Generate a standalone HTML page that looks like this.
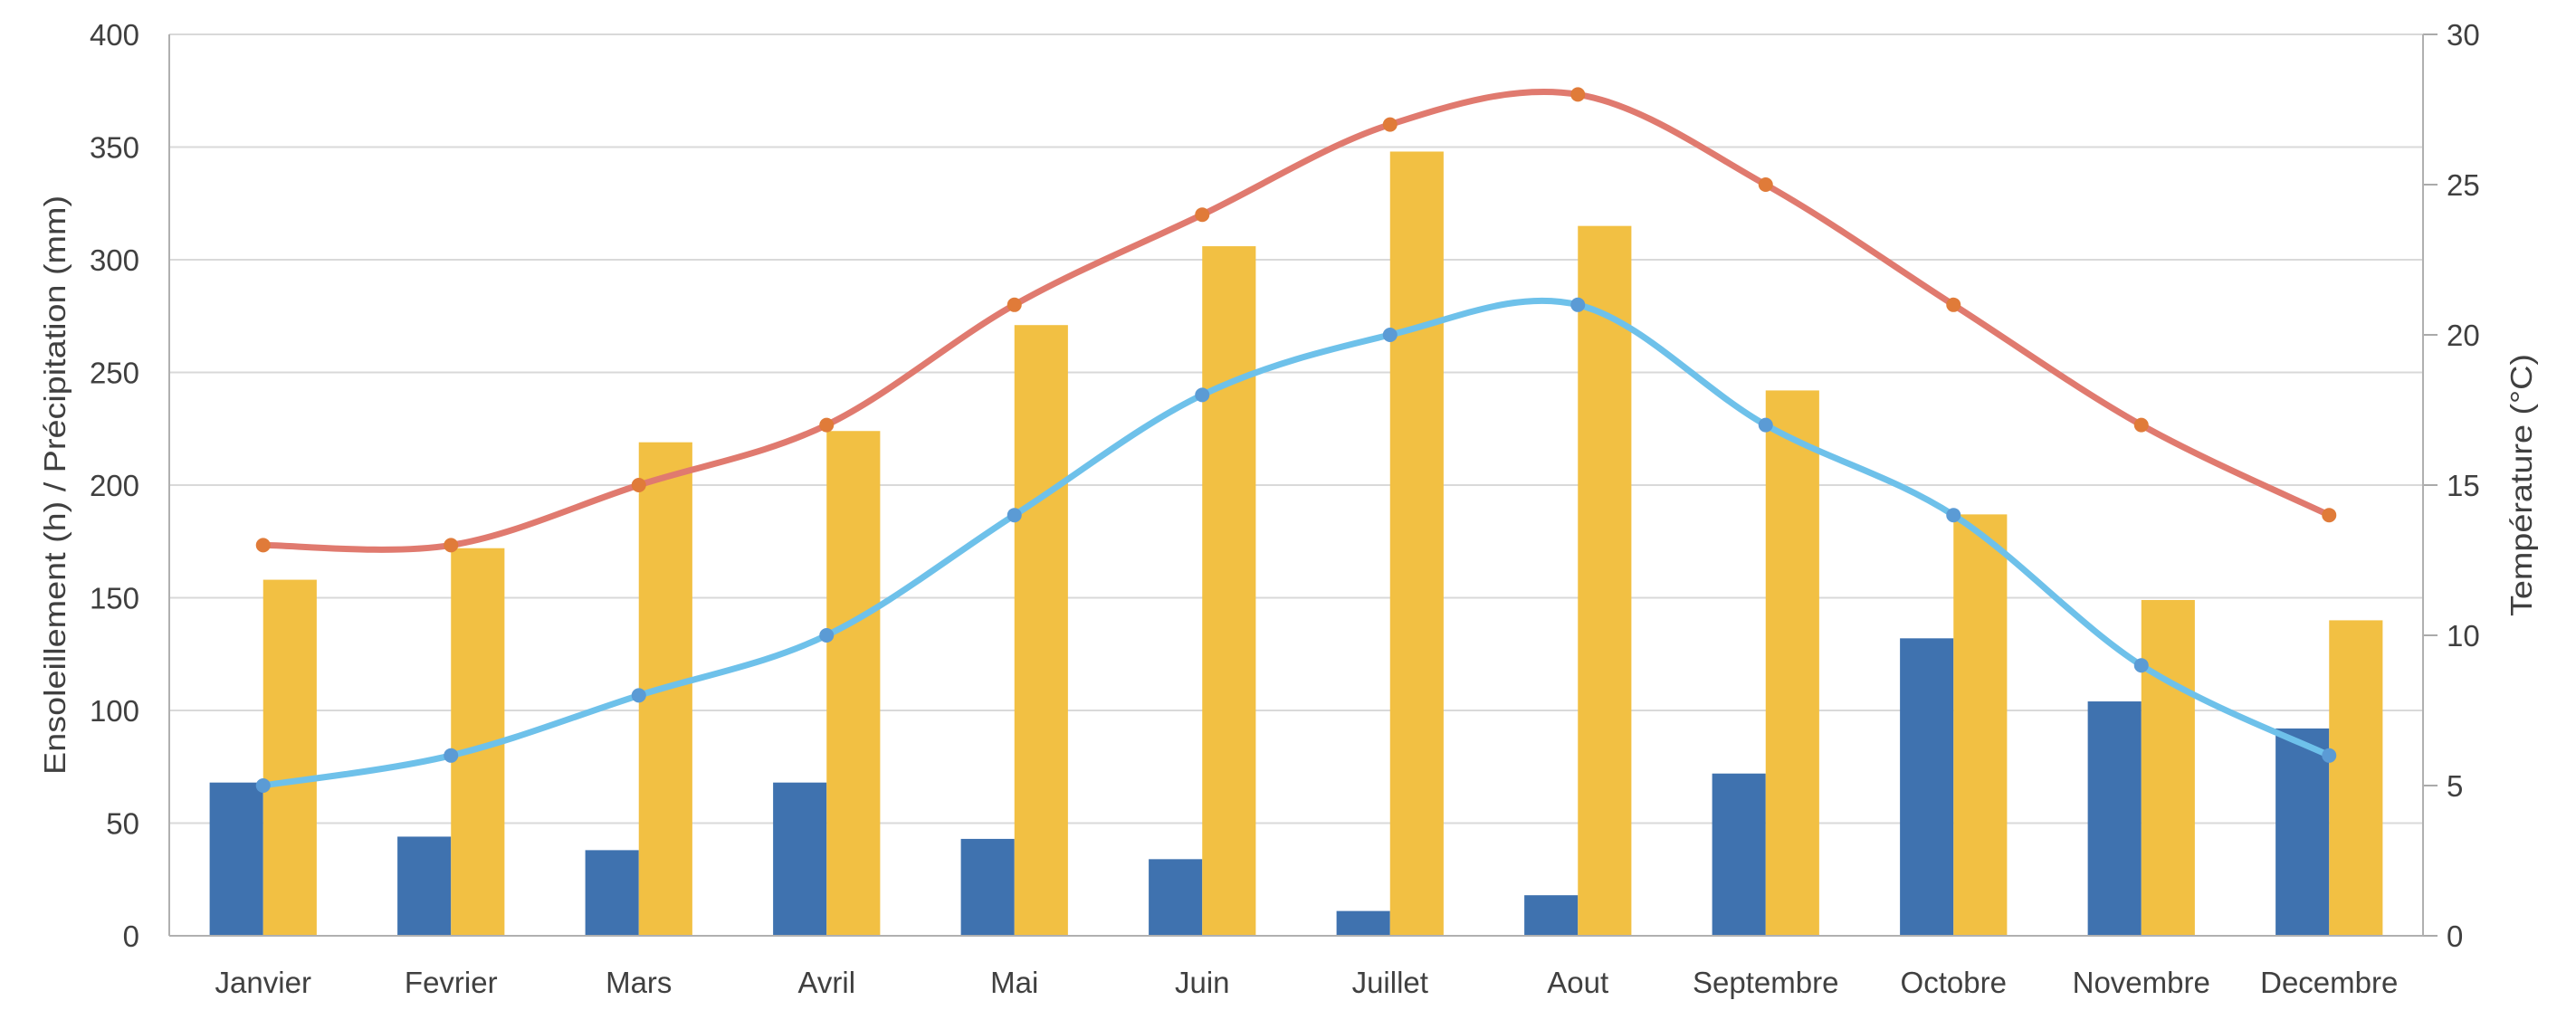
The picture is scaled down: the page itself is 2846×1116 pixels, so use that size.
<!DOCTYPE html>
<html><head><meta charset="utf-8"><style>
html,body{margin:0;padding:0;background:#fff;}
svg{display:block;}
text{font-family:"Liberation Sans",sans-serif;fill:#404040;}
</style></head><body>
<svg id="chart" width="2846" height="1116" viewBox="0 0 2846 1116" xmlns="http://www.w3.org/2000/svg">
<g id="grid"></g>
<g id="bars"></g>
<g id="lines"></g>
<g id="axes"></g>
<text transform="translate(72,536) rotate(-90)" text-anchor="middle" font-size="33" textLength="640" lengthAdjust="spacingAndGlyphs">Ensoleillement (h) / Précipitation (mm)</text>
<text transform="translate(2797,536) rotate(-90)" text-anchor="middle" font-size="33" textLength="290" lengthAdjust="spacingAndGlyphs">Température (°C)</text>
</svg>
<script>
const categories = ["Janvier","Fevrier","Mars","Avril","Mai","Juin","Juillet","Aout","Septembre","Octobre","Novembre","Decembre"];
const sunshineValues = [68,44,38,68,43,34,11,18,72,132,104,92];
const precipValues = [158,172,219,224,271,306,348,315,242,187,149,140];
const tempMaxValues = [13,13,15,17,21,24,27,28,25,21,17,14];
const tempMinValues = [5,6,8,10,14,18,20,21,17,14,9,6];
const leftTicks = [0,50,100,150,200,250,300,350,400];
const rightTicks = [0,5,10,15,20,25,30];

const NS = "http://www.w3.org/2000/svg";
const L = 187, R = 2677, T = 38, B = 1034;
const band = (R - L) / categories.length;
const xc = i => L + band * (i + 0.5);
const yL = v => B - (v / 400) * (B - T);
const yR = v => B - (v / 30) * (B - T);
function mk(tag, attrs, parent) {
  const e = document.createElementNS(NS, tag);
  for (const k in attrs) e.setAttribute(k, attrs[k]);
  parent.appendChild(e);
  return e;
}
const grid = document.getElementById('grid');
const bars = document.getElementById('bars');
const lines = document.getElementById('lines');
const axes = document.getElementById('axes');

leftTicks.forEach(t => {
  const g = mk('line', {x1: L, x2: R, y1: yL(t), y2: yL(t), stroke: '#d9d9d9', 'stroke-width': 2}, grid);
  
  
  const tx = mk('text', {x: 154, y: yL(t) + 12, 'text-anchor': 'end', 'font-size': 33}, axes);
  tx.textContent = t;
  
  
});
rightTicks.forEach(t => {
  const tk = mk('line', {x1: R, x2: R + 16, y1: yR(t), y2: yR(t), stroke: '#aaaaaa', 'stroke-width': 2}, axes);
  
  
  const tx = mk('text', {x: 2703, y: yR(t) + 12, 'text-anchor': 'start', 'font-size': 33}, axes);
  tx.textContent = t;
  
  
});
const la = mk('line', {x1: L, x2: L, y1: T, y2: B, stroke: '#b0b0b0', 'stroke-width': 2}, axes);


const ra = mk('line', {x1: R, x2: R, y1: T, y2: B, stroke: '#b0b0b0', 'stroke-width': 2}, axes);


const ba = mk('line', {x1: L, x2: R, y1: B, y2: B, stroke: '#b0b0b0', 'stroke-width': 2}, axes);



const bw = band * 0.285;
categories.forEach((c, i) => {
  const b1 = mk('rect', {x: xc(i) - bw, y: yL(sunshineValues[i]), width: bw, height: B - yL(sunshineValues[i]), fill: '#3f72af'}, bars);
  
  
  const b2 = mk('rect', {x: xc(i), y: yL(precipValues[i]), width: bw, height: B - yL(precipValues[i]), fill: '#f2c043'}, bars);
  
  
  const tx = mk('text', {x: xc(i), y: 1097, 'text-anchor': 'middle', 'font-size': 33}, axes);
  tx.textContent = c;
  
  
});

function smooth(pts) {
  let d = `M${pts[0][0]},${pts[0][1]}`;
  for (let i = 0; i < pts.length - 1; i++) {
    const p0 = pts[i - 1] || pts[i], p1 = pts[i], p2 = pts[i + 1], p3 = pts[i + 2] || p2;
    const t = 6;
    d += ` C${p1[0] + (p2[0] - p0[0]) / t},${p1[1] + (p2[1] - p0[1]) / t} ${p2[0] - (p3[0] - p1[0]) / t},${p2[1] - (p3[1] - p1[1]) / t} ${p2[0]},${p2[1]}`;
  }
  return d;
}
function series(vals, lineColor, dotColor, name) {
  const pts = vals.map((v, i) => [xc(i), yR(v)]);
  const p = mk('path', {d: smooth(pts), fill: 'none', stroke: lineColor, 'stroke-width': 7, 'stroke-linecap': 'round'}, lines);
  
  
  pts.forEach(pt => {
    const c = mk('circle', {cx: pt[0], cy: pt[1], r: 8, fill: dotColor}, lines);
    
    
  });
}
series(tempMaxValues, '#e07a6f', '#e07b39', 'temp-max');
series(tempMinValues, '#6ec1ea', '#5b9bd5', 'temp-min');
</script>
</body></html>
